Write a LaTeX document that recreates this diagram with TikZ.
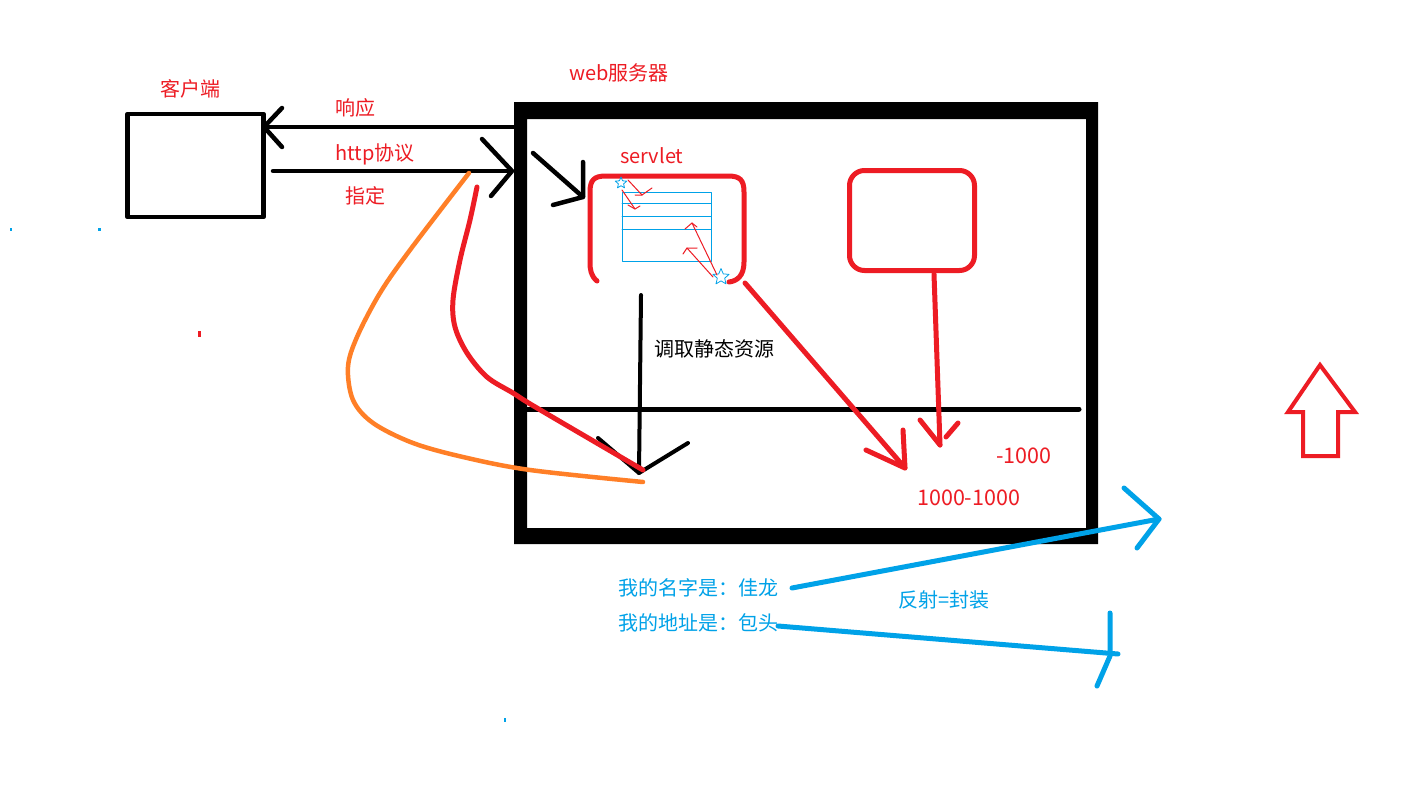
\documentclass[tikz,border=0pt]{standalone}
\usepackage{fontspec}
\setmainfont{Noto Sans CJK SC}
\usetikzlibrary{shapes.geometric}
\definecolor{pred}{HTML}{ED1C24}
\definecolor{pblue}{HTML}{00A2E8}
\definecolor{porange}{HTML}{FF7F27}
\begin{document}
\begin{tikzpicture}[x=1pt,y=-1pt,line cap=round,line join=round,
  lbl/.style={inner sep=0pt,anchor=base west,font=\fontsize{20}{20}\selectfont},
  numlbl/.style={lbl,text=pred,font=\fontsize{21.5}{21.5}\selectfont},
  redtxt/.style={lbl,text=pred},
  bluetxt/.style={lbl,text=pblue},
  blktxt/.style={lbl,text=black},
  blk/.style={draw=black,line width=4.5},
  redln/.style={draw=pred,line width=5},
  thinred/.style={draw=pred,line width=1},
  bluln/.style={draw=pblue,line width=5},
  orln/.style={draw=porange,line width=4.5},
  staricon/.style={star,star points=5,star point ratio=2.2,draw=pblue,line width=0.8,inner sep=0pt}]
\useasboundingbox (0,0) rectangle (1411,803);
\fill[white] (0,0) rectangle (1411,803);

% client box
\node[blk,minimum width=136,minimum height=103,inner sep=0pt] (client) at (195.5,165.5) {};
\node[redtxt] (clientlbl) at (160,96) {客户端};

% web server box
\coordinate (srvNW) at (514,102);
\coordinate (srvSE) at (1098,544);
\fill[black,even odd rule] (srvNW) rectangle (srvSE) (527,119) rectangle (1086,528);
\node[redtxt] (srvlbl) at (569,80) {web服务器};
\coordinate (hl1) at (527,409);
\coordinate (hl2) at (1079,409);
\draw[blk,line width=5] (hl1) -- (hl2);

% response arrow
\coordinate (respS) at (514,127);
\coordinate (respT) at (264,127);
\draw[blk] (respS) -- (respT);
\draw[blk] (282,108) -- (respT) -- (282,147);
\node[redtxt] (resplbl) at (335,115) {响应};

% request arrow
\coordinate (reqS) at (273,171);
\coordinate (reqT) at (512,171);
\draw[blk] (reqS) -- (reqT);
\draw[blk] (482,139) -- (reqT) -- (491,196);
\node[redtxt] (httplbl) at (335,160) {http协议};
\node[redtxt] (zdlbl) at (345,203) {指定};

% arrow into servlet
\coordinate (inS) at (533,153);
\coordinate (inT) at (583,197);
\draw[blk] (inS) -- (inT);
\draw[blk] (583,162) -- (inT) -- (553,205);

% servlet box (open rounded rectangle)
\node[redtxt] (servletlbl) at (620,163) {servlet};
\draw[redln] (597,281) .. controls (591,276) and (590,270) .. (590,262) -- (590,192)
  .. controls (590,180) and (594,176) .. (606,176) -- (728,176)
  .. controls (740,176) and (744,180) .. (744,192) -- (744,262)
  .. controls (744,276) and (737,281) .. (729,282);

% blue table
\draw[pblue,line width=1] (622,192) rectangle (711,261);
\foreach \yy in {203,216,229} \draw[pblue,line width=1] (622,\yy) -- (711,\yy);

% stars
\node[staricon,minimum size=12] (st1) at (621,183) {};
\node[staricon,minimum size=17] (st2) at (721,277) {};

% thin red arrows
\draw[thinred] (628,180) -- (642,195);
\draw[thinred] (635,195) -- (642,195) -- (652,188);
\draw[thinred] (622,190) -- (635,209);
\draw[thinred] (628,205) -- (635,209) -- (640,206);
\draw[thinred] (717,275) -- (692,223);
\draw[thinred] (685,229) -- (692,223) -- (697,227);
\draw[thinred] (713,277) -- (687,248);
\draw[thinred] (683,254) -- (687,248) -- (697,248);

% black down arrow
\coordinate (dnS) at (641,295);
\coordinate (dnT) at (639,473);
\draw[blk,line width=4] (dnS) -- (dnT);
\draw[blk,line width=4] (598,438) -- (dnT) -- (688,443);
\node[blktxt] (dtlbl) at (654,356) {调取静态资源};

% red diagonal arrow
\coordinate (dgS) at (745,283);
\coordinate (dgT) at (905,468);
\draw[redln] (dgS) -- (dgT);
\draw[redln] (903,430) -- (dgT) -- (866,450);

% right red box and arrow
\node[redln,rounded corners=15,minimum width=125,minimum height=100,inner sep=0pt] (rbox) at (912,220.5) {};
\coordinate (rvS) at (934,274);
\coordinate (rvT) at (940,445);
\draw[redln] (rvS) -- (rvT);
\draw[redln] (920,420) -- (rvT);
\draw[redln] (946,437) -- (958,423);
\node[numlbl] (m1000) at (996,463) {-1000};
\node[numlbl] (n1000) at (917,505) {1000-1000};

% red curve
\draw[redln] plot[smooth,tension=0.55] coordinates {(477,187) (470,220) (460,260) (453,300) (455,327) (467,353) (487,377) (513,393) (537,408) (643,470)};
% orange curve
\draw[orln] plot[smooth,tension=0.55] coordinates {(469,173) (410,250) (380,293) (357,337) (348,367) (353,400) (373,423) (413,443) (463,457) (530,470) (643,482)};

% blue texts and arrows
\node[bluetxt] (name) at (618,595) {我的名字是：佳龙};
\node[bluetxt] (addr) at (618,630) {我的地址是：包头};
\node[bluetxt] (refl) at (898,607) {反射=封装};
\coordinate (b1S) at (792,588);
\coordinate (b1T) at (1159,519);
\draw[bluln] (b1S) -- (b1T);
\draw[bluln] (1124,488) -- (b1T) -- (1137,548);
\coordinate (b2S) at (778,626);
\coordinate (b2T) at (1118,654);
\draw[bluln] (b2S) -- (b2T);
\draw[bluln] (1110,613) -- (1110,656) -- (1097,686);

% big outline up arrow
\draw[pred,line width=4,line join=miter] (1320,365) -- (1355,412) -- (1338,412) -- (1338,456) -- (1303,456) -- (1303,412) -- (1288,412) -- cycle;

% stray dots
\fill[pblue] (10,228) rectangle (12,231);
\fill[pblue] (98,228) rectangle (101,231);
\fill[pred] (198,331) rectangle (201,337);
\fill[pblue] (504,718) rectangle (506,722);
\end{tikzpicture}
\end{document}
